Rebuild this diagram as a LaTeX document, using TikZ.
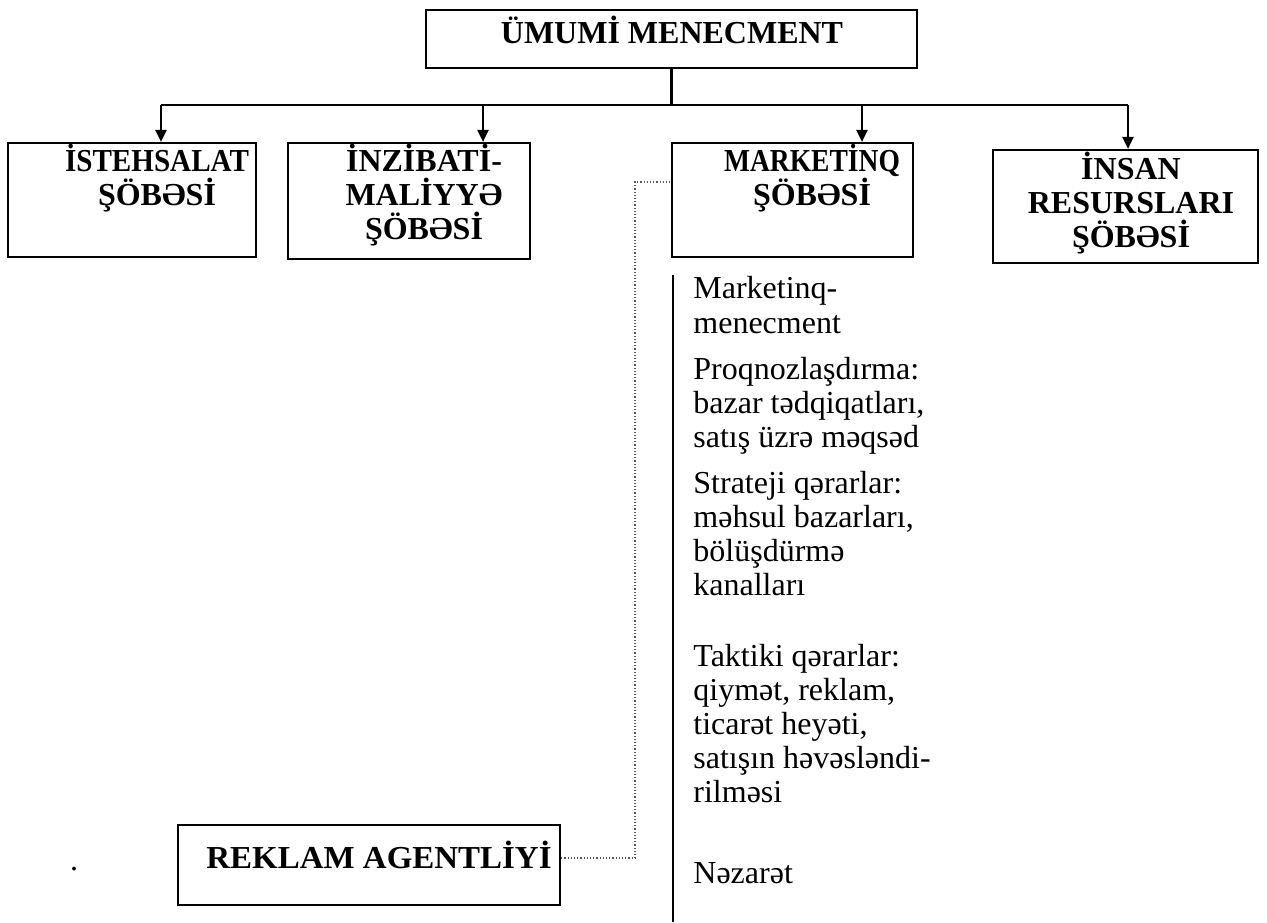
\documentclass[tikz,border=0pt]{standalone}
\usepackage{graphicx}
\usepackage{fontspec}
\setmainfont{Liberation Serif}
\usetikzlibrary{positioning,arrows.meta,calc}
\tikzset{
  box/.style={draw=black,line width=1.1pt,inner sep=0},
  head/.style={font=\bfseries\fontsize{16}{17}\selectfont,align=center,inner sep=0,anchor=base},
  item/.style={font=\fontsize{16}{18}\selectfont,inner sep=0,anchor=base west},
  line/.style={draw=black,line width=1.1pt},
  arr/.style={line,-{Triangle[length=6pt,width=5.5pt]}},
  dotline/.style={draw=black!65,densely dotted,line width=0.6pt}}

\begin{document}
\begin{tikzpicture}[x=0.5pt,y=-0.5pt]
  \useasboundingbox (0,0) rectangle (1267,922);
  % top of the chart
  \node[box,minimum width=245.5pt,minimum height=29pt] (top) at (671.5,39) {};
  \node[head] (topT) at (672,43) {ÜMUMİ MENECMENT};
  % the four departments (base = last line of each title)
  \node[box,minimum width=124pt,minimum height=57pt] (ist) at (132,200) {};
  \node[box,minimum width=121pt,minimum height=58pt] (inz) at (409,201) {};
  \node[box,minimum width=120.5pt,minimum height=57pt] (mkt) at (792.5,200) {};
  \node[box,minimum width=132.5pt,minimum height=56.5pt] (ins) at (1125.5,206.5) {};
  \node[head] (istT) at (157,205) {\scalebox{0.91}[1]{İSTEHSALAT}\\ŞÖBƏSİ};
  \node[head] (inzT) at (424,239) {İNZİBATİ-\\MALİYYƏ\\ŞÖBƏSİ};
  \node[head] (mktT) at (812,205) {\scalebox{0.86}[1]{MARKETİNQ}\\ŞÖBƏSİ};
  \node[head] (insT) at (1131,247) {İNSAN\\RESURSLARI\\ŞÖBƏSİ};
  % bus from the top box to the departments
  \coordinate (d1) at (161,105);
  \coordinate (d2) at (483,105);
  \coordinate (d3) at (862,105);
  \coordinate (d4) at (1128,105);
  \draw[line] (top.south) -- (top.south |- d1);
  \draw[line] (d1) -- (d4);
  \draw[arr] (d1) -- (d1 |- ist.north);
  \draw[arr] (d2) -- (d2 |- inz.north);
  \draw[arr] (d3) -- (d3 |- mkt.north);
  \draw[arr] (d4) -- (d4 |- ins.north);
  % the agency, tied to marketing
  \node[box,minimum width=191pt,minimum height=40pt] (rek) at (369,865) {};
  \node[head] (rekT) at (379,868) {\scalebox{1.03}[1]{REKLAM AGENTLİYİ}};
  \node[item,anchor=base] (dot) at (74,870) {.};
  \coordinate (rekout) at ($(rek.east)+(0,-7)$);
  \coordinate (bend) at (635,182);
  \draw[dotline] (rekout) -| (bend) -- (bend -| mkt.west);
  % what marketing does
  \coordinate (vtop) at (673,275);
  \coordinate (vbot) at (673,922);
  \draw[line,line width=1.2pt] (vtop) -- (vbot);
  \foreach \y/\t in {298/Marketinq-,333/menecment,379/Proqnozlaşdırma:,413/{bazar tədqiqatları,},
    447/satış üzrə məqsəd,493/Strateji qərarlar:,527/{məhsul bazarları,},561/bölüşdürmə,595/kanalları,
    666/Taktiki qərarlar:,700/{qiymət, reklam,},734/{ticarət heyəti,},768/satışın həvəsləndi-,802/rilməsi,883/Nəzarət}
    \node[item] (m\y) at (693,\y) {\t};
\end{tikzpicture}
\end{document}
